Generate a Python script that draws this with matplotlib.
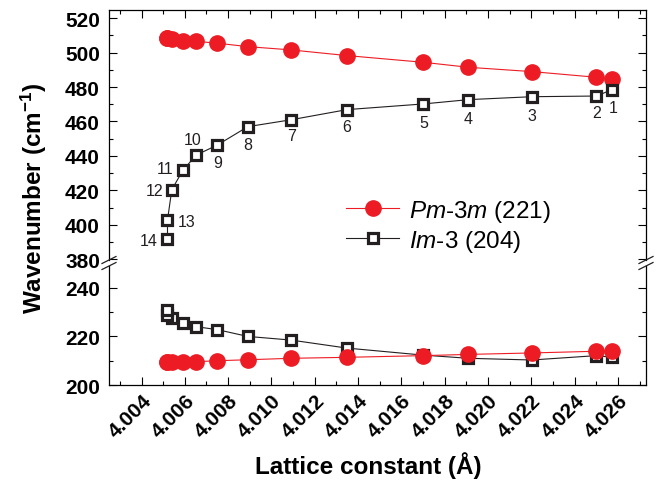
import matplotlib
matplotlib.use('Agg')
import matplotlib.pyplot as plt
from matplotlib.ticker import MultipleLocator, FormatStrFormatter
from matplotlib.lines import Line2D

plt.rcParams['font.family'] = ['Liberation Sans', 'DejaVu Sans']
plt.rcParams['mathtext.fontset'] = 'custom'
plt.rcParams['mathtext.rm'] = 'Liberation Sans'
plt.rcParams['mathtext.it'] = 'Liberation Sans:italic'
plt.rcParams['mathtext.bf'] = 'Liberation Sans:bold'

# ---- data (points 1..14) ----
labels = [str(i) for i in range(1, 15)]
lattice = [4.02573, 4.02501, 4.02202, 4.01910, 4.01702, 4.01349, 4.01091,
           4.00891, 4.00750, 4.00653, 4.00592, 4.00540, 4.00520, 4.00520]

# high-frequency mode
pm3m_high = [484.7, 485.7, 489.0, 491.5, 494.4, 498.3, 501.6,
             503.5, 505.5, 506.6, 507.0, 508.0, 508.3, 508.4]
im3_high = [478.5, 474.8, 474.4, 472.7, 470.2, 466.9, 461.0,
            457.0, 446.3, 440.5, 431.8, 420.4, 402.7, 391.7]

# low-frequency mode
pm3m_low = [214.1, 213.9, 213.2, 212.6, 212.1, 211.4, 211.0,
            210.4, 210.0, 209.6, 209.4, 209.3, 209.3, 209.3]
im3_low = [211.4, 212.1, 210.3, 211.0, 212.3, 215.2, 218.5,
           220.0, 222.8, 224.0, 225.7, 227.4, 229.0, 230.8]

# label offsets (points) for the numbers next to Im-3 points
label_offsets = [(0.5, -12.7), (0, -11.7), (0, -13.2), (0, -13.9), (0, -13.7),
                 (0, -12.2), (0, -11.5), (0, -12.5), (0, -12.5), (-2.4, 11.5),
                 (-13.2, 1.2), (-12.7, -0.7), (13.9, -0.9), (-13.2, -1.2)]

RED = '#ed1c24'
BLACK = '#231f20'

fig = plt.figure(figsize=(6.56, 4.89), dpi=100)
ax_top = fig.add_axes([0.1662, 0.4663, 0.8186, 0.5112])
ax_bot = fig.add_axes([0.1662, 0.2106, 0.8186, 0.2434])

red_kw = dict(color=RED, lw=0.8, marker='o', ms=11, mfc=RED, mec=RED)
blk_kw = dict(color=BLACK, lw=0.8, marker='s', ms=7, mfc='white', mec=BLACK, mew=2.3)

ax_top.plot(lattice, pm3m_high, label=r'$\mathit{Pm}$-$\mathit{3m}$ (221)', zorder=3, **red_kw)
ax_top.plot(lattice, im3_high, label=r'$\mathit{Im}$-$\mathit{3}$ (204)', zorder=4, **blk_kw)
ax_bot.plot(lattice, im3_low, zorder=3, **blk_kw)
ax_bot.plot(lattice, pm3m_low, zorder=4, **red_kw)

for lab, x, y, off in zip(labels, lattice, im3_high, label_offsets):
    ax_top.annotate(lab, (x, y), xytext=off, textcoords='offset points',
                    ha='center', va='center', fontsize=11.5, color=BLACK)

for ax in (ax_top, ax_bot):
    ax.set_xlim(4.0025, 4.0273)
    ax.xaxis.set_major_locator(MultipleLocator(0.002))
    ax.xaxis.set_minor_locator(MultipleLocator(0.001))
    ax.tick_params(which='both', direction='in', width=0.8, left=True, right=True)
    ax.tick_params(which='major', length=5.5)
    ax.tick_params(which='minor', length=3)
    ax.tick_params(axis='y', labelsize=15, pad=6.5)
    for sp in ax.spines.values():
        sp.set_linewidth(0.9)

ax_top.set_ylim(379.5, 524.8)
ax_top.yaxis.set_major_locator(MultipleLocator(20))
ax_top.yaxis.set_minor_locator(MultipleLocator(10))
ax_top.spines['bottom'].set_visible(False)
ax_top.tick_params(axis='x', which='both', bottom=False, top=True, labelbottom=False)

ax_bot.set_ylim(200, 249)
ax_bot.yaxis.set_major_locator(MultipleLocator(20))
ax_bot.yaxis.set_minor_locator(MultipleLocator(10))
ax_bot.spines['top'].set_visible(False)
ax_bot.tick_params(axis='x', which='both', bottom=True, top=False, labelsize=15, pad=4)
ax_bot.xaxis.set_major_formatter(FormatStrFormatter('%.3f'))
for ax in (ax_top, ax_bot):
    for t in ax.get_yticklabels():
        t.set_fontweight('bold')
for t in ax_bot.get_xticklabels():
    t.set_fontweight('bold')
    t.set_rotation(45)
    t.set_ha('right')
    t.set_va('top')
    t.set_rotation_mode('anchor')

# break marks on both sides
W, H = 656.0, 489.0
for xp in (109, 646):
    for yp in (261, 267):
        fig.add_artist(Line2D([(xp - 7) / W, (xp + 7) / W],
                              [1 - (yp + 3.5) / H, 1 - (yp - 3.5) / H],
                              color=BLACK, lw=0.9))

leg = ax_top.legend(loc='upper left', bbox_to_anchor=(346 / W, 1 - 199 / H),
                    bbox_transform=fig.transFigure, frameon=False, fontsize=17.5,
                    handlelength=2.2, handletextpad=0.4, labelspacing=0.15,
                    borderpad=0, borderaxespad=0)

fig.text(34 / W, 1 - 198 / H, r'Wavenumber (cm$^{\mathregular{-1}}$)', rotation=90,
         ha='center', va='center', fontsize=17.5, fontweight='bold')
fig.text(368 / W, 1 - 466 / H, 'Lattice constant (Å)', ha='center', va='center',
         fontsize=17.5, fontweight='bold')

plt.savefig('out.png', dpi=100)
